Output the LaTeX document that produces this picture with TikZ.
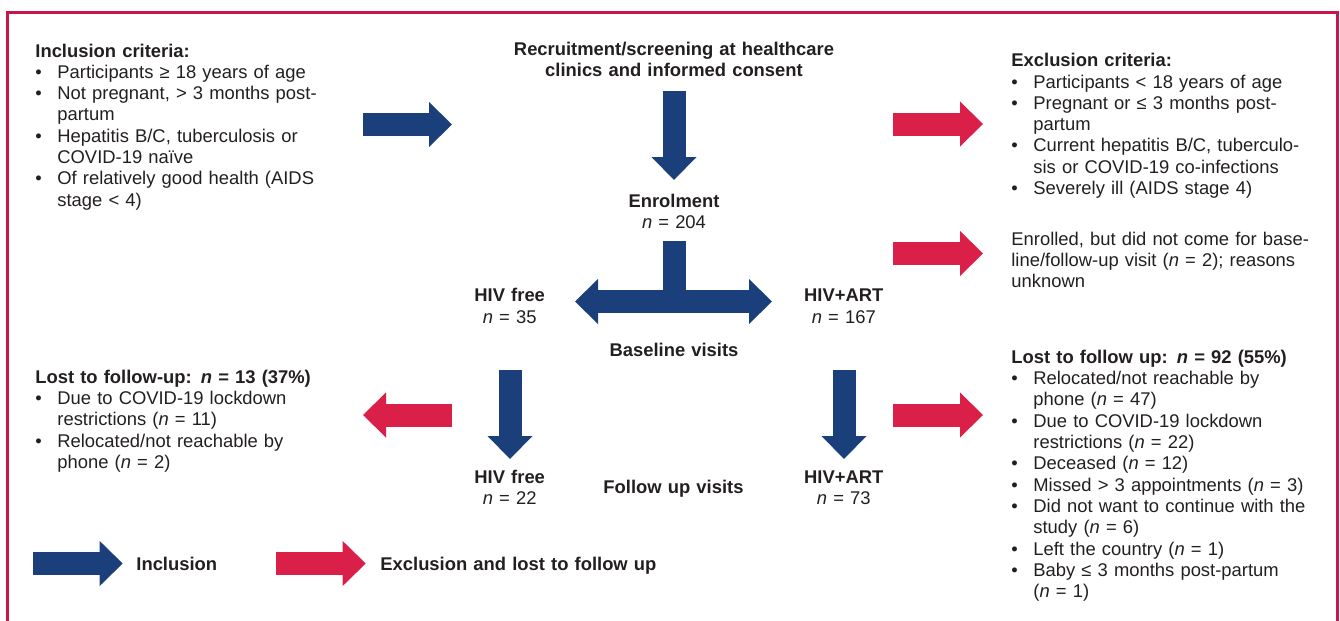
\documentclass[tikz,border=0pt]{standalone}
\usepackage{fontspec}
\setmainfont{Liberation Sans}
\usetikzlibrary{arrows.meta}

\definecolor{incblue}{RGB}{27,63,122}
\definecolor{excred}{RGB}{218,31,72}
\definecolor{framered}{RGB}{200,22,75}
\definecolor{txtgray}{RGB}{35,31,32}

\newcommand{\bul}{\makebox[11pt][l]{\textbullet}}
\newcommand{\ind}{\hspace*{11pt}}
\newcommand{\nn}{\textit{n}}

\tikzset{
  lbl/.style={inner sep=0pt, text=txtgray, font=\fontsize{9.2}{10.65}\selectfont,
    text width=190pt, align=left, anchor=base west},
  ctr/.style={lbl, text width=180pt, align=center, anchor=base},
  blockarrow/.style={line width=11.5pt,
    -{Triangle[length=11.5pt,width=22.5pt,line width=0pt]}},
  inarrow/.style={blockarrow, draw=incblue},
  exarrow/.style={blockarrow, draw=excred},
}

\begin{document}
\begin{tikzpicture}[x=0.5pt,y=-0.5pt]
  \useasboundingbox (0,0) rectangle (1340,621);
  \draw[framered,line width=1.3pt] (7.5,640) -- (7.5,12.5) -- (1337.5,12.5) -- (1337.5,640);

  % texts
  \node[lbl] (incl) at (35,57) {\textbf{Inclusion criteria:}\\
    \bul Participants ≥ 18 years of age\\
    \bul Not pregnant, > 3 months post-\\
    \ind partum\\
    \bul Hepatitis B/C, tuberculosis or\\
    \ind COVID-19 naïve\\
    \bul Of relatively good health (AIDS\\
    \ind stage < 4)};
  \node[ctr,font=\fontsize{9.2}{10.65}\selectfont\bfseries] (recruit) at (674,55.7)
    {Recruitment/screening at healthcare\\clinics and informed consent};
  \node[lbl] (excl) at (1011,66.7) {\textbf{Exclusion criteria:}\\
    \bul Participants < 18 years of age\\
    \bul Pregnant or ≤ 3 months post-\\
    \ind partum\\
    \bul Current hepatitis B/C, tuberculo-\\
    \ind sis or COVID-19 co-infections\\
    \bul Severely ill (AIDS stage 4)};
  \node[ctr] (enrol) at (674,207) {\textbf{Enrolment}\\\nn{} = 204};
  \node[lbl] (noshow) at (1011,245) {Enrolled, but did not come for base-\\
    line/follow-up visit (\nn{} = 2); reasons\\
    unknown};
  \node[ctr] (free0) at (509.7,301.7) {\textbf{HIV free}\\\nn{} = 35};
  \node[ctr] (art0) at (843.8,301.7) {\textbf{HIV+ART}\\\nn{} = 167};
  \node[ctr] (base) at (674,356) {\textbf{Baseline visits}};
  \node[lbl] (lostl) at (35,383.3) {\textbf{Lost to follow-up: \nn{} = 13 (37\%)}\\
    \bul Due to COVID-19 lockdown\\
    \ind restrictions (\nn{} = 11)\\
    \bul Relocated/not reachable by\\
    \ind phone (\nn{} = 2)};
  \node[lbl] (lostr) at (1011,363.3) {\textbf{Lost to follow up: \nn{} = 92 (55\%)}\\
    \bul Relocated/not reachable by\\
    \ind phone (\nn{} = 47)\\
    \bul Due to COVID-19 lockdown\\
    \ind restrictions (\nn{} = 22)\\
    \bul Deceased (\nn{} = 12)\\
    \bul Missed > 3 appointments (\nn{} = 3)\\
    \bul Did not want to continue with the\\
    \ind study (\nn{} = 6)\\
    \bul Left the country (\nn{} = 1)\\
    \bul Baby ≤ 3 months post-partum\\
    \ind (\nn{} = 1)};
  \node[ctr] (free1) at (509.7,483.3) {\textbf{HIV free}\\\nn{} = 22};
  \node[ctr] (art1) at (843.8,483.3) {\textbf{HIV+ART}\\\nn{} = 73};
  \node[ctr] (follow) at (673.5,493.3) {\textbf{Follow up visits}};
  \node[lbl] (keyin) at (136,570.5) {\textbf{Inclusion}};
  \node[lbl] (keyex) at (380,570.5) {\textbf{Exclusion and lost to follow up}};

  % arrow ends
  \coordinate (inclA) at (363,124.5);   \coordinate (inclB) at (452,124.5);
  \coordinate (recA) at (674,91);       \coordinate (recB) at (674,180);
  \coordinate (enrA) at (674,241);      \coordinate (split) at (674,301.5);
  \coordinate (freeL) at (575,301.5);   \coordinate (artR) at (772,301.5);
  \coordinate (freeA) at (510,370);     \coordinate (freeB) at (510,459);
  \coordinate (artA) at (844,370);      \coordinate (artB) at (844,459);
  \coordinate (exA) at (893,124);       \coordinate (exB) at (983,124);
  \coordinate (nsA) at (893,253.5);     \coordinate (nsB) at (983,253.5);
  \coordinate (lrA) at (893,415);       \coordinate (lrB) at (983,415);
  \coordinate (llA) at (452,415);       \coordinate (llB) at (363,415);
  \coordinate (kiA) at (33,563.5);      \coordinate (kiB) at (122.7,563.5);
  \coordinate (keA) at (276,563.5);     \coordinate (keB) at (365.7,563.5);

  % inclusion arrows
  \draw[inarrow] (inclA) -- (inclB);
  \draw[inarrow] (recA) -- (recB);
  \draw[incblue,line width=11.5pt] (enrA) -- (split);
  \draw[inarrow] (split) -- (freeL);
  \draw[inarrow] (split) -- (artR);
  \draw[inarrow] (freeA) -- (freeB);
  \draw[inarrow] (artA) -- (artB);
  \draw[inarrow] (kiA) -- (kiB);

  % exclusion arrows
  \draw[exarrow] (exA) -- (exB);
  \draw[exarrow] (nsA) -- (nsB);
  \draw[exarrow] (lrA) -- (lrB);
  \draw[exarrow] (llA) -- (llB);
  \draw[exarrow] (keA) -- (keB);
\end{tikzpicture}
\end{document}
